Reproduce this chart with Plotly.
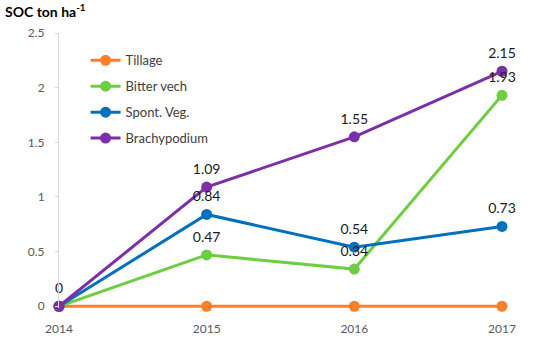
import plotly.graph_objects as go

years = ["2014", "2015", "2016", "2017"]
series_names = ["Tillage", "Bitter vech", "Spont. Veg.", "Brachypodium"]
tillage = [0, 0, 0, 0]
bitter_vech = [0, 0.47, 0.34, 1.93]
spont_veg = [0, 0.84, 0.54, 0.73]
brachypodium = [0, 1.09, 1.55, 2.15]
y_ticks = [0, 0.5, 1, 1.5, 2, 2.5]
y_tick_labels = ["0", "0.5", "1", "1.5", "2", "2.5"]

colors = ["#FF7F27", "#6CCF3F", "#0070C0", "#7B2FA8"]
values = [tillage, bitter_vech, spont_veg, brachypodium]
# which points carry a data label (indices)
labelled = [[], [1, 2, 3], [1, 2, 3], [0, 1, 2, 3]]

fig = go.Figure()
xs = list(range(len(years)))
for name, vals, col in zip(series_names, values, colors):
    fig.add_trace(go.Scatter(
        x=xs, y=vals, name=name, mode="lines+markers", legendgroup=name,
        line=dict(color=col, width=3),
        marker=dict(color=col, size=11),
        cliponaxis=False,
    ))
for name, vals, idx in zip(series_names, values, labelled):
    if not idx:
        continue
    fig.add_trace(go.Scatter(
        x=[xs[i] for i in idx], y=[vals[i] for i in idx], mode="markers+text",
        marker=dict(size=14, color="rgba(0,0,0,0)"),
        text=[f"{vals[i]:g}" for i in idx], textposition="top center",
        textfont=dict(family="Lato", size=14, color="#1a1a1a"),
        showlegend=False, hoverinfo="skip", cliponaxis=False,
    ))

fig.update_layout(
    width=550, height=340,
    margin=dict(l=59, r=48, t=33, b=32),
    plot_bgcolor="white", paper_bgcolor="white",
    font=dict(family="Lato", size=12, color="#595959"),
    title=dict(text="<b>SOC ton ha<sup>-1</sup></b>", xref="container", yref="container",
               x=5/550, xanchor="left", y=1-12/340, yanchor="middle",
               font=dict(family="Lato", size=14, color="#000000")),
    legend=dict(x=0.06, y=0.955, xanchor="left", yanchor="top",
                font=dict(family="Lato", size=13, color="#404040"),
                bgcolor="rgba(0,0,0,0)", itemwidth=30, tracegroupgap=6),
    showlegend=True,
)
fig.update_xaxes(range=[0, 3], tickvals=xs, ticktext=years, showgrid=False, automargin=False,
                 zeroline=False, showline=False, ticks="", ticklabelstandoff=12,
                 tickfont=dict(family="Lato", size=12, color="#595959"))
fig.update_yaxes(range=[-0.016, 2.5], tickvals=y_ticks, ticktext=y_tick_labels, automargin=False,
                 showgrid=False, zeroline=False, showline=True, linecolor="#D9D9D9", linewidth=1,
                 ticks="outside", ticklen=3, tickcolor="#D9D9D9", ticklabelstandoff=8,
                 tickfont=dict(family="Lato", size=12, color="#595959"))

fig.write_html("out.html", config={"displayModeBar": False},
               post_script="document.body.style.margin='0';")
